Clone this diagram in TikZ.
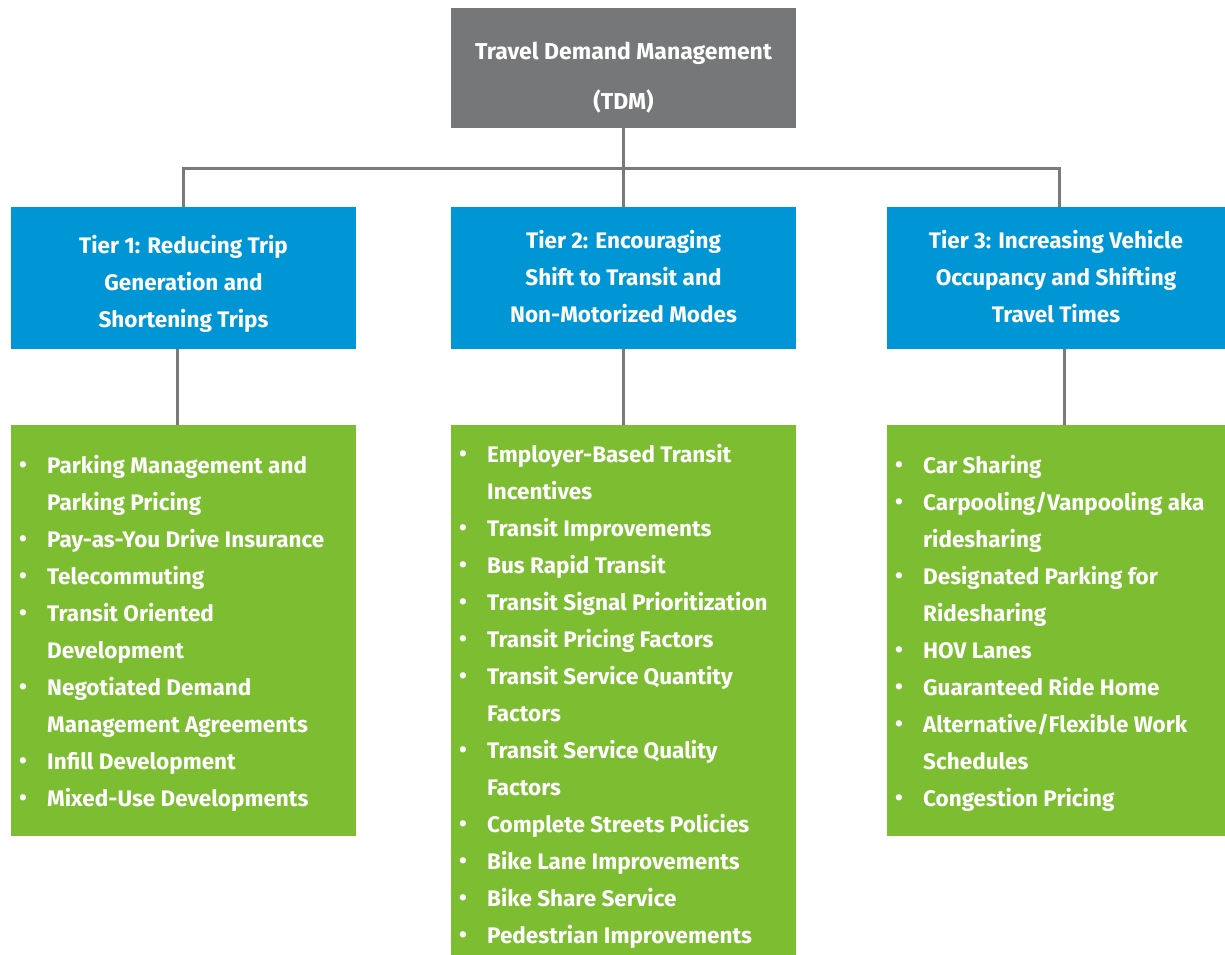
\documentclass[tikz,border=0pt]{standalone}
\usepackage{fontspec}
\setmainfont{Fira Sans}
\usepackage{array}
\definecolor{tdmgray}{RGB}{118,119,121}
\definecolor{tierblue}{RGB}{0,150,214}
\definecolor{listgreen}{RGB}{125,189,49}
\definecolor{linkgray}{RGB}{122,122,122}
\newcommand{\bul}{\hspace*{-1bp}\raisebox{0.05ex}{•}}
\newcommand{\itemlist}[1]{%
  \setlength{\tabcolsep}{0pt}\renewcommand{\arraystretch}{1}%
  \begin{tabular}[t]{@{}p{27bp}@{}l@{}}#1\end{tabular}}
\newcommand{\centredlines}[2]{%
  \raisebox{#1}[\height][\depth]{\setlength{\tabcolsep}{0pt}\renewcommand{\arraystretch}{1}%
  \begin{tabular}{@{}c@{}}#2\end{tabular}}}
\tikzset{
  box/.style={rectangle, inner sep=0pt, text=white, font=\bfseries\fontsize{22.5bp}{37bp}\selectfont},
  topbox/.style={box, fill=tdmgray, minimum width=345bp, minimum height=120bp, align=center,
    font=\bfseries\fontsize{23bp}{37bp}\selectfont},
  tierbox/.style={box, fill=tierblue, minimum height=142bp, align=center},
  listbox/.style={rectangle, inner sep=0pt, fill=listgreen},
  listtext/.style={box, anchor=base west},
  link/.style={draw=linkgray, line width=3bp}
}
\begin{document}
\begin{tikzpicture}[x=1bp, y=-1bp]
\useasboundingbox (0,0) rectangle (1225,955);

% root
\node[topbox] (tdm) at (623.5,68) {\centredlines{-9bp}{Travel Demand Management\\[13bp](TDM)}};

% tiers
\node[tierbox, minimum width=345bp] (t1) at (183.5,278) {\centredlines{-5bp}{Tier 1: Reducing Trip\\Generation and\\Shortening Trips}};
\node[tierbox, minimum width=345bp] (t2) at (623.5,278) {\centredlines{0bp}{Tier 2: Encouraging\\Shift to Transit and\\Non-Motorized Modes}};
\node[tierbox, minimum width=338bp] (t3) at (1056,278) {\centredlines{0bp}{Tier 3: Increasing Vehicle\\Occupancy and Shifting\\Travel Times}};

% strategy boxes
\node[listbox, minimum width=345bp, minimum height=411bp] (g1) at (183.5,630.5) {};
\node[listbox, minimum width=345bp, minimum height=530bp] (g2) at (623.5,690) {};
\node[listbox, minimum width=338bp, minimum height=411bp] (g3) at (1056,630.5) {};

\node[listtext] (l1) at (20,473) {\itemlist{%
  \bul & Parking Management and\\
       & Parking Pricing\\
  \bul & Pay-as-You Drive Insurance\\
  \bul & Telecommuting\\
  \bul & Transit Oriented\\
       & Development\\
  \bul & Negotiated Demand\\
       & Management Agreements\\
  \bul & Infill Development\\
  \bul & Mixed-Use Developments}};

\node[listtext] (l2) at (460,462) {\itemlist{%
  \bul & Employer-Based Transit\\
       & Incentives\\
  \bul & Transit Improvements\\
  \bul & Bus Rapid Transit\\
  \bul & Transit Signal Prioritization\\
  \bul & Transit Pricing Factors\\
  \bul & Transit Service Quantity\\
       & Factors\\
  \bul & Transit Service Quality\\
       & Factors\\
  \bul & Complete Streets Policies\\
  \bul & Bike Lane Improvements\\
  \bul & Bike Share Service\\
  \bul & Pedestrian Improvements}};

\node[listtext] (l3) at (896,473) {\itemlist{%
  \bul & Car Sharing\\
  \bul & Carpooling/Vanpooling aka\\
       & ridesharing\\
  \bul & Designated Parking for\\
       & Ridesharing\\
  \bul & HOV Lanes\\
  \bul & Guaranteed Ride Home\\
  \bul & Alternative/Flexible Work\\
       & Schedules\\
  \bul & Congestion Pricing}};

% connectors
\coordinate (hub) at (623.5,168);
\draw[link] (tdm.south) -- (hub);
\draw[link] (t1.north) |- (hub) -| ([xshift=3bp]t3.north);
\draw[link] (hub) -- (t2.north);
\draw[link] ([xshift=-6bp]t1.south) -- ([xshift=-6bp]g1.north);
\draw[link] (t2.south) -- (g2.north);
\draw[link] ([xshift=8bp]t3.south) -- ([xshift=8bp]g3.north);
\end{tikzpicture}
\end{document}
